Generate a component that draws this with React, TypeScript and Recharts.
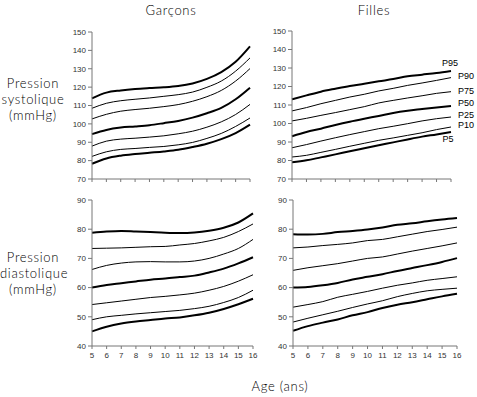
import React from 'react';
import { LineChart, Line, XAxis, YAxis, LabelList } from 'recharts';

const AGES = [5, 6, 7, 8, 9, 10, 11, 12, 13, 14, 15, 16];
const SYS_TICKS = [70, 80, 90, 100, 110, 120, 130, 140, 150];
const DIA_TICKS = [40, 50, 60, 70, 80, 90];
const PERCENTILES = ['P95', 'P90', 'P75', 'P50', 'P25', 'P10', 'P5'];
const THICK = ['P95', 'P50', 'P5'];

// Garçons - systolique
const G_SYS_P95 = [113.9, 117, 118.2, 119, 119.5, 119.9, 120.6, 122, 124.5, 128.2, 133.8, 142.2];
const G_SYS_P90 = [108.5, 111.2, 112.6, 113.4, 114.1, 115, 115.9, 117.3, 119.9, 123.3, 128.7, 135.9];
const G_SYS_P75 = [102.7, 105.2, 106.9, 107.8, 108.5, 109.4, 110.5, 112.3, 114.8, 118.2, 123.3, 130.1];
const G_SYS_P50 = [94.4, 96.7, 98, 98.6, 99.3, 100.4, 101.6, 103.4, 105.8, 108.7, 113.4, 119.7];
const G_SYS_P25 = [87.9, 90.6, 91.7, 92.2, 92.8, 93.5, 94.6, 96, 98.2, 101.1, 105.1, 110.6];
const G_SYS_P10 = [82.3, 84.8, 86.1, 86.6, 87.2, 87.7, 88.6, 89.9, 92.1, 94.8, 98.6, 103.2];
const G_SYS_P5 = [78.3, 81.2, 82.7, 83.6, 84.3, 85, 85.9, 87.4, 89.2, 91.7, 95, 99.6];

// Filles - systolique
const F_SYS_P95 = [113.1, 115.2, 117.2, 118.8, 120.3, 121.5, 122.8, 124, 125.5, 126.4, 127.3, 128.4];
const F_SYS_P90 = [106.8, 108.6, 110.7, 112.5, 114.3, 115.8, 117.6, 119, 120.6, 121.9, 123.3, 124.8];
const F_SYS_P75 = [101.4, 102.8, 104.4, 105.9, 107.5, 109.1, 111.1, 112.5, 113.8, 115, 116.3, 117.2];
const F_SYS_P50 = [93.1, 95.4, 97.2, 99.2, 101, 102.6, 104.1, 105.7, 106.9, 107.8, 108.7, 109.5];
const F_SYS_P25 = [86.9, 88.6, 90.5, 92.3, 94, 95.6, 97.2, 98.5, 99.9, 101.4, 102.6, 103.5];
const F_SYS_P10 = [81.9, 82.8, 84.4, 86, 87.7, 89.3, 90.9, 92.2, 93.6, 95, 96.7, 98.1];
const F_SYS_P5 = [79, 80.1, 81.7, 83.3, 85, 86.6, 88.2, 89.8, 91.4, 92.9, 94.1, 95.4];

// Garçons - diastolique
const G_DIA_P95 = [78.8, 79.2, 79.4, 79.2, 79, 78.8, 78.7, 78.9, 79.5, 80.5, 82.3, 85.4];
const G_DIA_P90 = [73.4, 73.5, 73.6, 73.8, 74, 74.1, 74.6, 75.1, 76, 77.2, 79.2, 81.8];
const G_DIA_P75 = [66.2, 67.6, 68.4, 68.8, 68.9, 68.8, 68.8, 69.1, 70, 71.5, 73.4, 76.5];
const G_DIA_P50 = [60, 60.9, 61.5, 62.1, 62.7, 63.1, 63.6, 64.1, 65.2, 66.5, 68.3, 70.4];
const G_DIA_P25 = [54.2, 54.8, 55.4, 56, 56.6, 57, 57.5, 58.1, 59.1, 60.4, 62.2, 64.4];
const G_DIA_P10 = [49, 50, 50.5, 51, 51.4, 51.8, 52.2, 52.8, 53.6, 54.9, 56.6, 59.1];
const G_DIA_P5 = [45, 46.6, 47.7, 48.4, 48.9, 49.4, 49.8, 50.5, 51.4, 52.7, 54.3, 56.2];

// Filles - diastolique
const F_DIA_P95 = [78.3, 78.2, 78.4, 79, 79.4, 79.9, 80.6, 81.5, 82, 82.7, 83.3, 83.8];
const F_DIA_P90 = [73.6, 73.9, 74.4, 74.8, 75.3, 76.1, 76.5, 77.4, 78.3, 79.2, 79.9, 80.7];
const F_DIA_P75 = [65.9, 66.8, 67.5, 68.2, 69.1, 70, 70.5, 71.5, 72.5, 73.4, 74.3, 75.3];
const F_DIA_P50 = [60, 60.2, 60.8, 61.6, 62.8, 63.7, 64.6, 65.7, 66.7, 67.7, 68.8, 70.1];
const F_DIA_P25 = [53.3, 54.2, 55.2, 56.7, 57.7, 58.7, 59.8, 60.8, 61.6, 62.5, 63.1, 63.7];
const F_DIA_P10 = [48.2, 49.5, 50.7, 51.9, 53.2, 54.4, 55.5, 56.9, 58, 58.9, 59.4, 59.8];
const F_DIA_P5 = [45.2, 46.8, 48, 49.1, 50.5, 51.6, 53, 54.1, 55, 56, 57, 57.9];

const toRows = (series: number[][]) =>
  AGES.map((age, i) => {
    const row: Record<string, number> = { age };
    PERCENTILES.forEach((p, k) => {
      row[p] = series[k][i];
    });
    return row;
  });

const gSys = toRows([G_SYS_P95, G_SYS_P90, G_SYS_P75, G_SYS_P50, G_SYS_P25, G_SYS_P10, G_SYS_P5]);
const fSys = toRows([F_SYS_P95, F_SYS_P90, F_SYS_P75, F_SYS_P50, F_SYS_P25, F_SYS_P10, F_SYS_P5]);
const gDia = toRows([G_DIA_P95, G_DIA_P90, G_DIA_P75, G_DIA_P50, G_DIA_P25, G_DIA_P10, G_DIA_P5]);
const fDia = toRows([F_DIA_P95, F_DIA_P90, F_DIA_P75, F_DIA_P50, F_DIA_P25, F_DIA_P10, F_DIA_P5]);

// label placement relative to the last point of each curve
const TAG_OFFSETS: Record<string, { dx: number; dy: number; anchor: string }> = {
  P95: { dx: -1, dy: -8, anchor: 'middle' },
  P90: { dx: 7, dy: -1.5, anchor: 'start' },
  P75: { dx: 7, dy: -0.7, anchor: 'start' },
  P50: { dx: 7, dy: -3, anchor: 'start' },
  P25: { dx: 7, dy: -2, anchor: 'start' },
  P10: { dx: 7, dy: -2, anchor: 'start' },
  P5: { dx: -3, dy: 7, anchor: 'middle' },
};

const TICK_FONT = { fontSize: 8, fill: '#333', fontFamily: 'Liberation Sans, Arial, sans-serif' };
const TITLE_FONT: React.CSSProperties = {
  position: 'absolute',
  fontFamily: 'Lato, sans-serif',
  fontWeight: 300,
  fontSize: 13,
  letterSpacing: 0.7,
  color: '#000',
  textAlign: 'center',
  lineHeight: '16px',
};

const renderTag = (name: string) => (props: any) => {
  const { x, y, index } = props;
  if (index !== AGES.length - 1) return null;
  const o = TAG_OFFSETS[name];
  return (
    <text
      x={x + o.dx}
      y={y + o.dy}
      textAnchor={o.anchor}
      dominantBaseline="central"
      fontSize={9}
      fontFamily="Liberation Sans, Arial, sans-serif"
      fill="#000"
    >
      {name}
    </text>
  );
};

const NoLabel = () => <g />;

interface PanelProps {
  rows: Record<string, number>[];
  ticks: number[];
  box: { x: number; y: number; w: number; h: number };
  showX: boolean;
  tagged?: boolean;
}

const Panel: React.FC<PanelProps> = ({ rows, ticks, box, showX, tagged }) => {
  const yw = 40;
  const mt = 8;
  const mr = tagged ? 26 : 8;
  const xh = showX ? 22 : 6;
  return (
    <div style={{ position: 'absolute', left: box.x - yw, top: box.y - mt }}>
      <LineChart
        width={yw + box.w + mr}
        height={mt + box.h + xh}
        data={rows}
        margin={{ top: mt, right: mr, left: 0, bottom: 0 }}
      >
        <XAxis
          dataKey="age"
          type="number"
          domain={[5, 16]}
          ticks={AGES}
          interval={0}
          height={xh}
          tickSize={3}
          tickMargin={3}
          stroke="#777"
          tick={showX ? TICK_FONT : NoLabel}
        />
        <YAxis
          type="number"
          domain={[ticks[0], ticks[ticks.length - 1]]}
          ticks={ticks}
          interval={0}
          width={yw}
          tickSize={4}
          tickMargin={2}
          stroke="#777"
          tick={TICK_FONT}
        />
        {PERCENTILES.map((p) => (
          <Line
            key={p}
            dataKey={p}
            type="monotone"
            stroke="#000"
            strokeWidth={THICK.includes(p) ? 2 : 1}
            dot={false}
            isAnimationActive={false}
          >
            {tagged && <LabelList dataKey={p} content={renderTag(p)} />}
          </Line>
        ))}
      </LineChart>
    </div>
  );
};

export default function App() {
  return (
    <div
      style={{
        position: 'absolute',
        left: 0,
        top: 0,
        width: 477,
        height: 397,
        overflow: 'hidden',
        background: '#fff',
      }}
    >
      <div style={{ ...TITLE_FONT, left: 121, top: 2, width: 100 }}>Garçons</div>
      <div style={{ ...TITLE_FONT, left: 324, top: 2, width: 100 }}>Filles</div>
      <div style={{ ...TITLE_FONT, left: 0, top: 75, width: 66 }}>
        Pression
        <br />
        systolique
        <br />
        (mmHg)
      </div>
      <div style={{ ...TITLE_FONT, left: 0, top: 249, width: 66 }}>
        Pression
        <br />
        diastolique
        <br />
        (mmHg)
      </div>
      <div style={{ ...TITLE_FONT, left: 220, top: 378, width: 120 }}>Age (ans)</div>

      <Panel rows={gSys} ticks={SYS_TICKS} box={{ x: 92, y: 32, w: 158, h: 147 }} showX={false} />
      <Panel rows={fSys} ticks={SYS_TICKS} box={{ x: 292, y: 31, w: 159, h: 148 }} showX={false} tagged />
      <Panel rows={gDia} ticks={DIA_TICKS} box={{ x: 92, y: 200, w: 161, h: 146 }} showX />
      <Panel rows={fDia} ticks={DIA_TICKS} box={{ x: 293, y: 200, w: 164, h: 146 }} showX />
    </div>
  );
}
